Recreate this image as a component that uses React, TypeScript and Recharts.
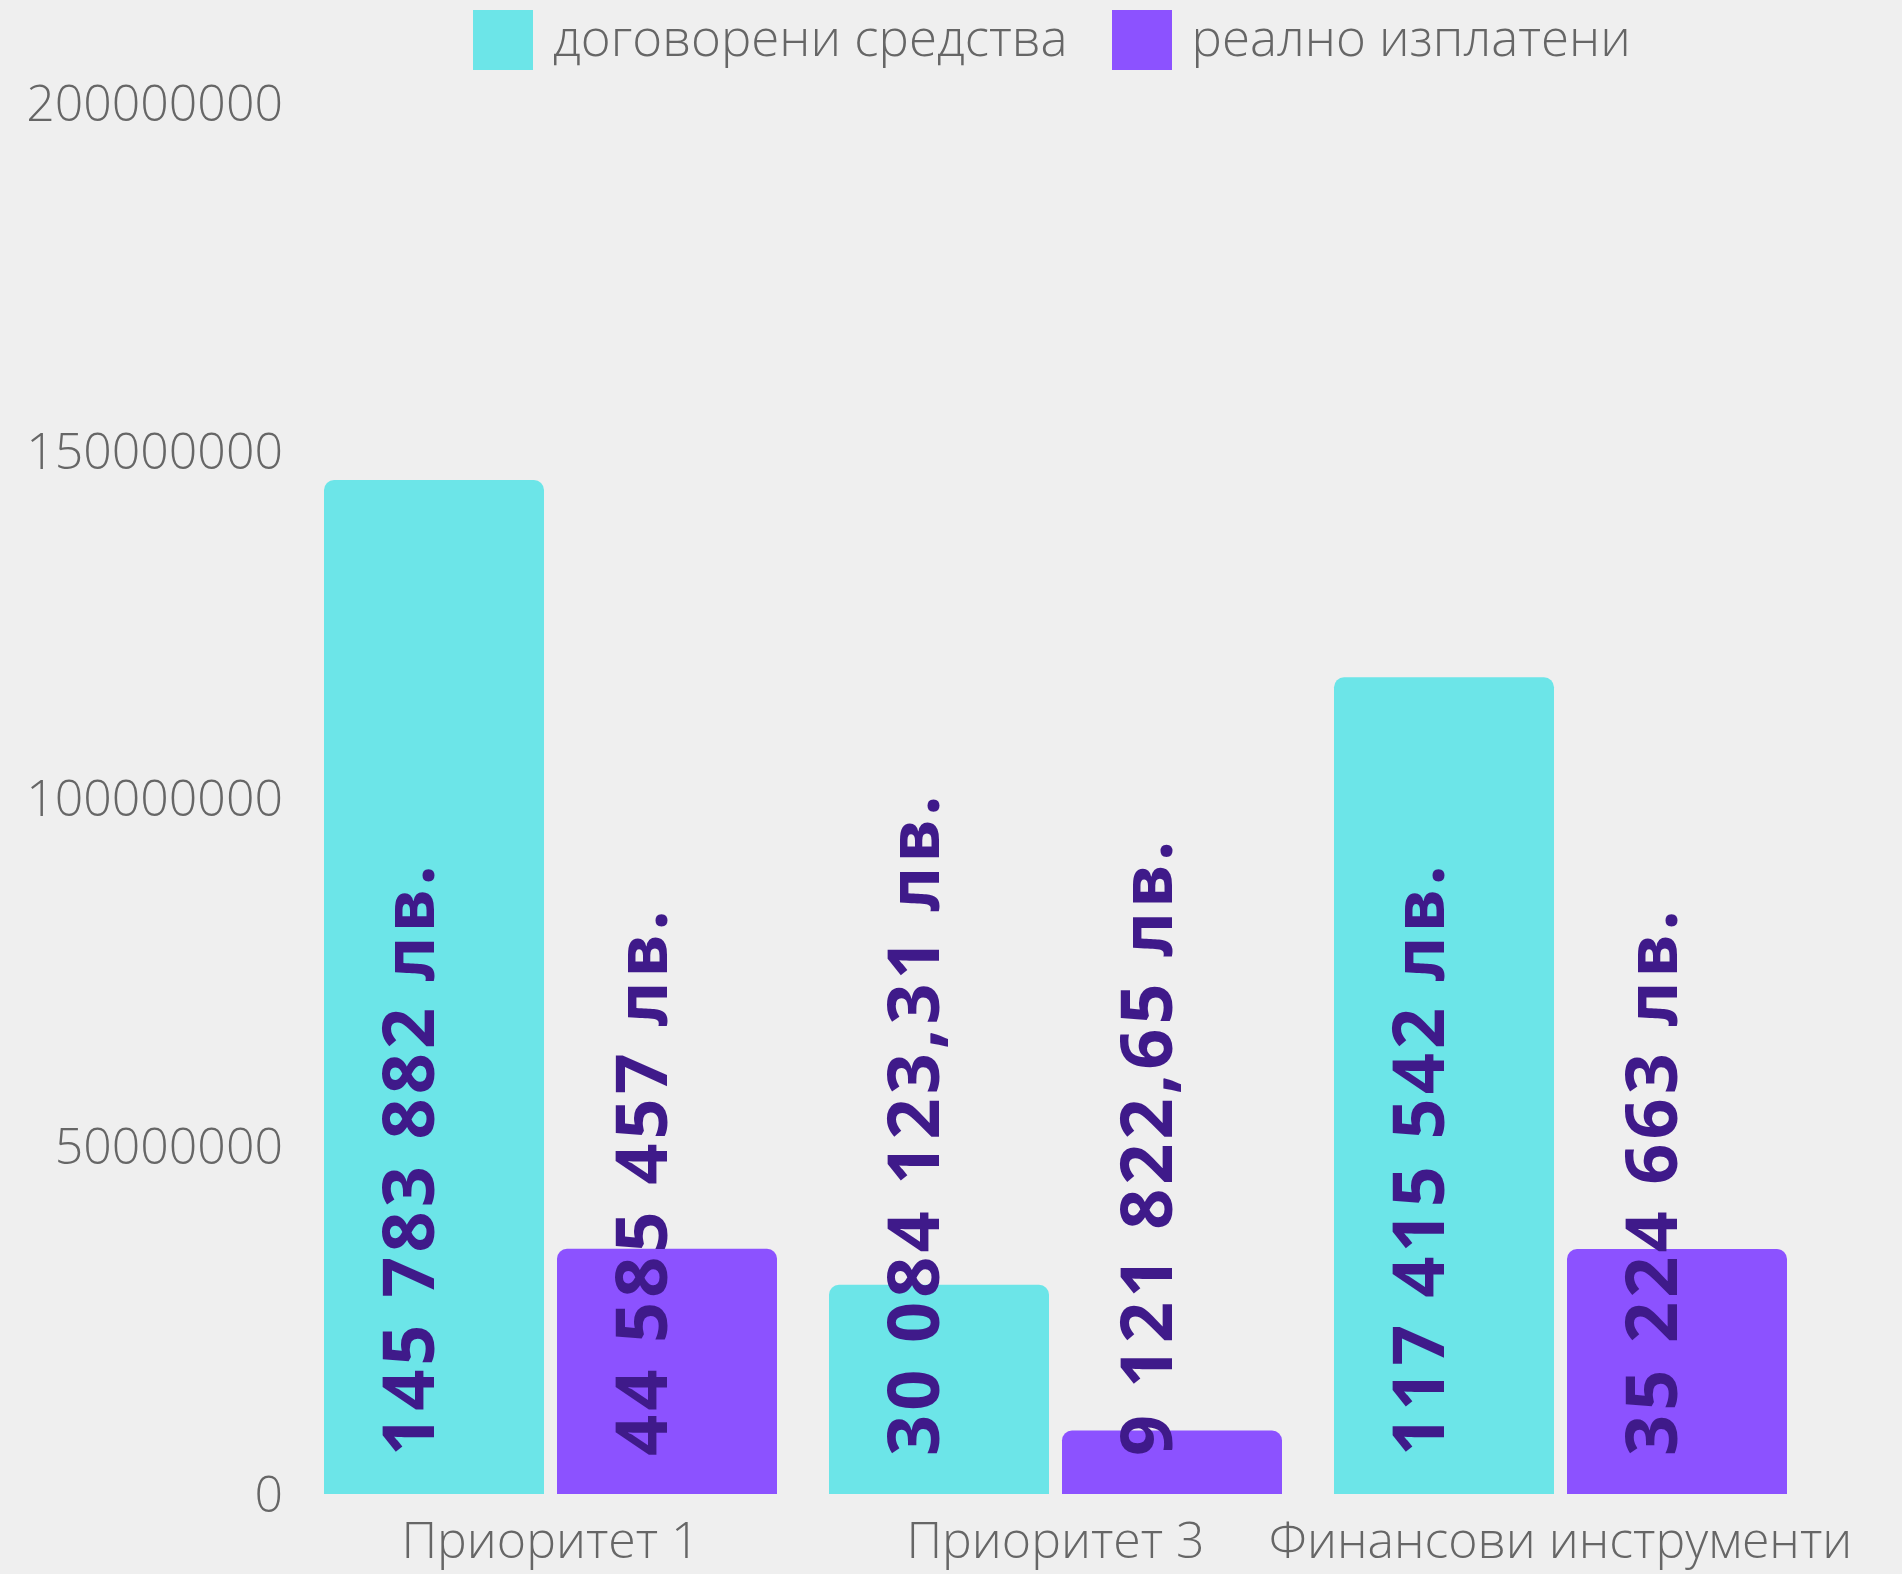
import React from "react";
import { BarChart, Bar, XAxis, YAxis, Legend, LabelList } from "recharts";

const categories = ["Приоритет 1", "Приоритет 3", "Финансови инструменти"];
// bar heights as drawn in the chart
const contracted = [145783882, 30084123.31, 117415542];
const paid = [35250000, 9121822.65, 35224663];
// labels printed on the bars
const contractedLabels = ["145 783 882 лв.", "30 084 123,31 лв.", "117 415 542 лв."];
const paidLabels = ["44 585 457 лв.", "9 121 822,65 лв.", "35 224 663 лв."];
const yTicks = [0, 50000000, 100000000, 150000000, 200000000];

const seriesNames = ["договорени средства", "реално изплатени"];
const CYAN = "#6ce5e8";
const PURPLE = "#8c52ff";
const LABEL = "#3f1a8a";
const GREY = "#666666";

if (typeof document !== "undefined") {
  document.body.style.background = "#efefef";
}

const data = categories.map((name, i) => ({
  name,
  contracted: contracted[i],
  paid: paid[i],
  contractedLabel: contractedLabels[i],
  paidLabel: paidLabels[i],
}));

function BarLabel(props: any) {
  const x = Number(props.x);
  const y = Number(props.y);
  const w = Number(props.width);
  const h = Number(props.height);
  const cx = x + w / 2;
  const by = y + h - 38;
  return (
    <text
      x={cx}
      y={by}
      transform={`rotate(-90 ${cx} ${by})`}
      textAnchor="start"
      fill={LABEL}
      fontFamily="'Noto Sans', sans-serif"
      fontWeight={700}
      fontSize={72}
      letterSpacing={4}
    >
      {props.value}
    </text>
  );
}

function LegendContent() {
  const colors = [CYAN, PURPLE];
  return (
    <div style={{ display: "flex", alignItems: "flex-start", height: 60 }}>
      {seriesNames.map((n, i) => (
        <div key={n} style={{ display: "flex", alignItems: "flex-start", marginRight: 44 }}>
          <div style={{ width: 60, height: 60, background: colors[i] }} />
          <span
            style={{
              marginLeft: 20,
              marginTop: -8,
              fontFamily: "'Open Sans', sans-serif",
              fontWeight: 300,
              fontSize: 51,
              color: GREY,
              lineHeight: "68px",
            }}
          >
            {n}
          </span>
        </div>
      ))}
    </div>
  );
}

export default function App() {
  return (
    <BarChart
      width={1886}
      height={1566}
      data={data}
      margin={{ top: 35, right: 81, bottom: 0, left: 0 }}
      barCategoryGap={26}
      barGap={13}
    >
      <Legend
        verticalAlign="top"
        content={<LegendContent />}
        wrapperStyle={{ top: 2, left: 465, width: "auto" }}
      />
      <XAxis
        dataKey="name"
        axisLine={false}
        tickLine={false}
        height={80}
        tickMargin={22}
        interval={0}
        tick={{ fill: GREY, fontSize: 50, fontFamily: "'Open Sans', sans-serif", fontWeight: 300 }}
      />
      <YAxis
        width={290}
        domain={[0, 200000000]}
        ticks={yTicks}
        axisLine={false}
        tickLine={false}
        tickMargin={9}
        tick={{ fill: GREY, fontSize: 50, fontFamily: "'Open Sans', sans-serif", fontWeight: 300 }}
      />
      <Bar dataKey="contracted" fill={CYAN} radius={[10, 10, 0, 0]} isAnimationActive={false}>
        <LabelList dataKey="contractedLabel" content={<BarLabel />} />
      </Bar>
      <Bar dataKey="paid" fill={PURPLE} radius={[10, 10, 0, 0]} isAnimationActive={false}>
        <LabelList dataKey="paidLabel" content={<BarLabel />} />
      </Bar>
    </BarChart>
  );
}
